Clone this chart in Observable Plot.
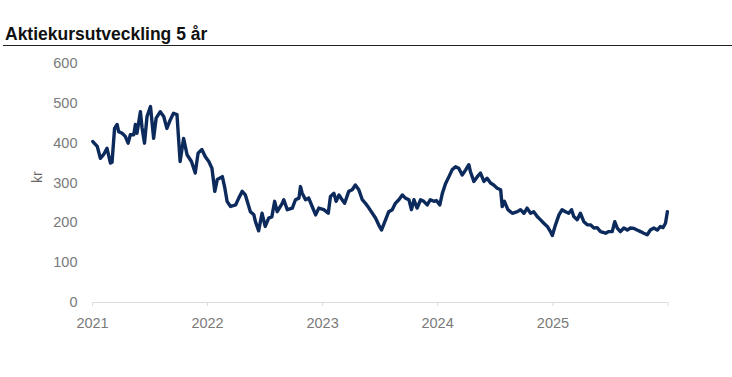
<!DOCTYPE html>
<html><head><meta charset="utf-8">
<script src="https://cdn.jsdelivr.net/npm/d3@7"></script>
<script src="https://cdn.jsdelivr.net/npm/@observablehq/plot@0.6"></script>
<style>
body{margin:0;background:#fff;width:732px;height:377px;overflow:hidden;font-family:"Liberation Sans",Arial,sans-serif;}
#title{position:absolute;left:5px;top:23.5px;font-weight:bold;font-size:17.5px;line-height:20px;color:#111;white-space:nowrap;}
#rule{position:absolute;left:3px;right:0;top:44.5px;border-top:1.5px solid #222;}
#chart{position:absolute;left:0;top:46px;}
</style></head>
<body>
<div id="title">Aktiekursutveckling 5 år</div>
<div id="rule"></div>
<div id="chart"></div>
<script>
const dates = [
"2021-01-02","2021-01-16","2021-01-26","2021-02-05","2021-02-16","2021-02-27","2021-03-04","2021-03-12","2021-03-20","2021-03-25","2021-04-05","2021-04-15","2021-04-24","2021-05-01","2021-05-12","2021-05-17","2021-05-22","2021-06-02","2021-06-07","2021-06-15","2021-06-23","2021-07-04","2021-07-14","2021-07-22","2021-08-04","2021-08-15","2021-08-25","2021-09-05","2021-09-15","2021-09-26","2021-10-06","2021-10-17","2021-10-28","2021-11-11","2021-11-23","2021-12-02","2021-12-14","2021-12-25",
"2022-01-05","2022-01-15","2022-01-24","2022-02-01","2022-02-17","2022-02-25","2022-03-04","2022-03-15","2022-03-31","2022-04-10","2022-04-21","2022-05-01","2022-05-17","2022-05-28","2022-06-02","2022-06-12","2022-06-23","2022-07-03","2022-07-14","2022-07-24","2022-08-02","2022-08-10","2022-08-26","2022-08-31","2022-09-11","2022-09-27","2022-10-07","2022-10-18","2022-10-23","2022-10-28","2022-11-08","2022-11-18","2022-11-29","2022-12-10","2022-12-20",
"2023-01-05","2023-01-19","2023-01-26","2023-02-06","2023-02-13","2023-02-22","2023-03-04","2023-03-12","2023-03-25","2023-04-05","2023-04-15","2023-04-26","2023-05-07","2023-05-17","2023-05-28","2023-06-08","2023-06-18","2023-06-28","2023-07-07","2023-07-20","2023-07-30","2023-08-10","2023-08-20","2023-08-31","2023-09-11","2023-09-21","2023-10-02","2023-10-10","2023-10-18","2023-10-28","2023-11-08","2023-11-18","2023-11-29","2023-12-09","2023-12-20","2023-12-28",
"2024-01-08","2024-01-16","2024-01-26","2024-02-06","2024-02-16","2024-02-27","2024-03-08","2024-03-19","2024-03-30","2024-04-09","2024-04-14","2024-04-25","2024-05-06","2024-05-16","2024-05-27","2024-06-06","2024-06-17","2024-06-27","2024-07-08","2024-07-19","2024-07-24","2024-07-31","2024-08-11","2024-08-25","2024-09-10","2024-09-20","2024-10-01","2024-10-11","2024-10-22","2024-11-01","2024-11-12","2024-11-22","2024-12-03","2024-12-14","2024-12-24","2024-12-30",
"2025-01-09","2025-01-20","2025-01-30","2025-02-10","2025-02-20","2025-03-01","2025-03-08","2025-03-19","2025-03-29","2025-04-09","2025-04-20","2025-04-30","2025-05-11","2025-05-21","2025-06-01","2025-06-17","2025-06-27","2025-07-08","2025-07-16","2025-07-24","2025-08-03","2025-08-14","2025-08-25","2025-09-04","2025-09-15","2025-09-25","2025-10-06","2025-10-16","2025-10-27","2025-11-06","2025-11-17","2025-11-28","2025-12-08","2025-12-16","2025-12-24","2025-12-30"
];
const prices = [
404,392,362,371,387,350,352,437,447,429,425,417,400,421,421,447,425,479,440,400,467,492,412,463,479,467,437,459,475,472,354,412,371,354,325,375,384,366,
354,337,279,309,316,287,254,241,245,262,279,270,228,220,203,180,224,191,212,215,254,228,249,258,233,237,258,262,291,275,258,262,241,220,237,
233,224,266,274,254,270,258,249,279,283,295,283,258,249,237,224,212,195,182,208,228,233,249,258,270,262,258,233,258,237,258,254,245,258,254,256,
245,274,298,316,333,341,337,320,333,346,329,304,316,325,304,312,300,295,287,283,241,254,233,224,228,233,224,237,224,228,216,208,199,191,178,168,
195,220,233,228,224,233,216,208,224,203,195,195,187,188,178,174,178,178,203,187,178,187,182,187,186,182,178,174,170,182,187,182,191,188,199,228
];
const yTicks = [0, 100, 200, 300, 400, 500, 600];
const xTickYears = ["2021", "2022", "2023", "2024", "2025", "2026"];
const yLabel = "kr";

const data = dates.map((d, i) => ({date: new Date(d), price: prices[i]}));
const xTicks = xTickYears.map(y => new Date(y + "-01-01"));

const chart = Plot.plot({
  width: 732,
  height: 300,
  marginLeft: 92,
  marginRight: 64.5,
  marginTop: 17,
  marginBottom: 44,
  style: {fontFamily: "'Liberation Sans', Arial, sans-serif", background: "#fff"},
  x: {type: "utc", domain: [xTicks[0], xTicks[xTicks.length - 1]]},
  y: {domain: [0, 600]},
  marks: [
    Plot.axisY({ticks: yTicks, tickSize: 0, tickPadding: 15, label: null, fontSize: 14.5, fill: "#7a7a7a"}),
    Plot.ruleY([0], {stroke: "#dcdcdc", strokeWidth: 1.2}),
    Plot.axisX({ticks: xTicks, tickSize: 4, tickPadding: 11.5, stroke: "#dcdcdc", fill: "#7a7a7a", fontSize: 14.5, label: null,
      tickFormat: d => d.getUTCFullYear() === 2026 ? "" : String(d.getUTCFullYear())}),
    Plot.line(data, {x: "date", y: "price", stroke: "#0c2b5c", strokeWidth: 3.4, strokeLinejoin: "round", strokeLinecap: "round"}),
    Plot.text([yLabel], {frameAnchor: "left", dx: -55, rotate: -90, text: d => d, fontSize: 14, fill: "#666"})
  ]
});
document.getElementById("chart").appendChild(chart);
</script>
</body></html>
